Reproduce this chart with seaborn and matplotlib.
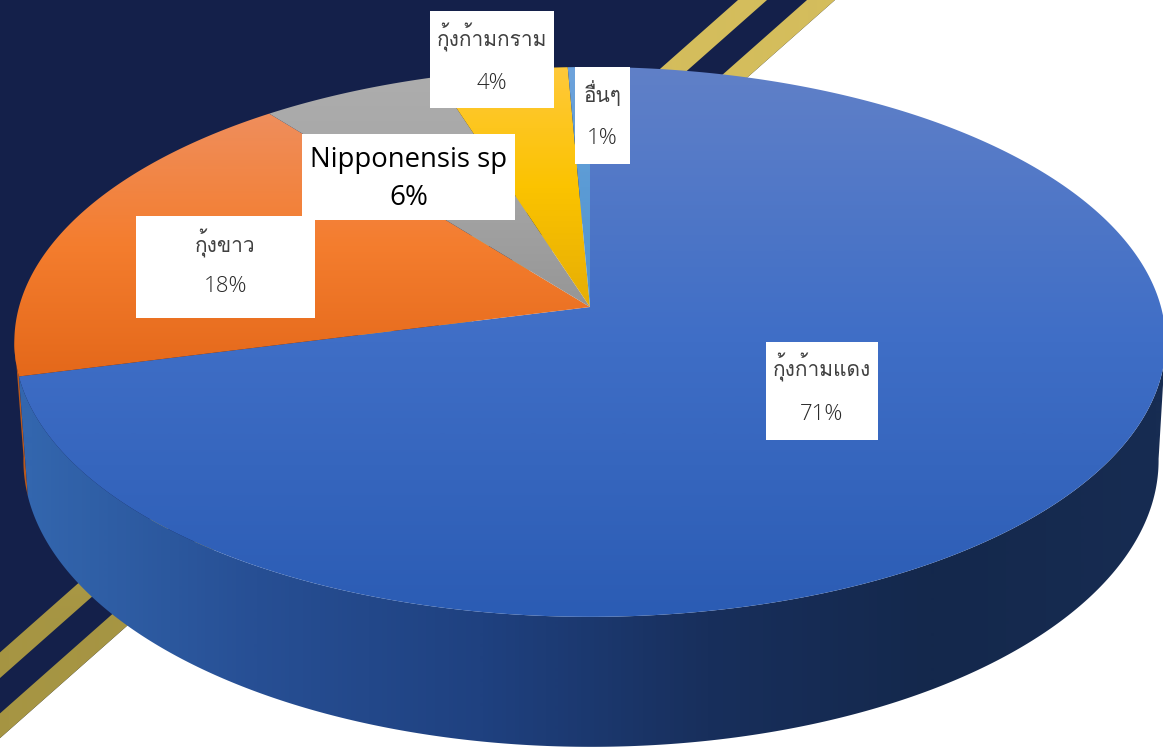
import numpy as np
import matplotlib
matplotlib.use("Agg")
import matplotlib.pyplot as plt
from matplotlib.patches import Polygon, Rectangle
import seaborn as sns

# chart values, clockwise from the top of the pie (labels show them rounded)
categories = ["กุ้งก้ามแดง", "กุ้งขาว", "Nipponensis sp", "กุ้งก้ามกราม", "อื่นๆ"]
shares = [71.0, 18.4, 5.7, 4.2, 0.7]

# top surface colours per slice (top of slice -> bottom of slice)
top_colors = [
    ["#6080c8", "#3f6ec6", "#2b5cb4"],
    ["#ef8e5c", "#f47d2e", "#e4681a"],
    ["#adadad", "#a5a5a5", "#969696"],
    ["#ffc93a", "#fbc300", "#e6ae05"],
    ["#6ea3dc", "#5b9bd5", "#4f93d0"],
]
side_colors = ["#3366ae", "#274f94", "#1f4180", "#182f5c", "#14284c", "#172c52"]

W, H = 1163, 748
NAVY = "#14204a"
THAI = ["Loma", "Noto Sans Thai Looped", "DejaVu Sans"]
LATIN = ["Open Sans", "DejaVu Sans"]
sns.set_theme(style="white")
plt.rcParams["font.family"] = THAI

fig = plt.figure(figsize=(W / 100, H / 100), dpi=100)
ax = fig.add_axes([0, 0, 1, 1])
ax.set_axis_off()


def gradient(colors, span, clip, axis="y", zorder=2):
    # paint a blended gradient over the canvas and clip it to a polygon
    cmap = sns.blend_palette(colors, n_colors=256, as_cmap=True)
    if axis == "y":
        grid = np.clip((np.arange(H)[:, None] - span[0]) / (span[1] - span[0]), 0, 1)
    else:
        grid = np.clip((np.arange(W)[None, :] - span[0]) / (span[1] - span[0]), 0, 1)
    im = ax.imshow(grid, cmap=cmap, vmin=0, vmax=1, extent=[0, W, H, 0], aspect="auto",
                   zorder=zorder, interpolation="bilinear")
    patch = Polygon(clip, closed=True, transform=ax.transData, fc="none", ec="none")
    ax.add_patch(patch)
    im.set_clip_path(patch)


def project(theta, d, a, b, c, cx=590):
    # perspective view of a circle, theta in degrees clockwise from the far side
    t = np.radians(theta)
    w = 1 + c * np.cos(t)
    return np.column_stack([cx + d * np.sin(t) / w, (a * np.cos(t) + b) / w])


def rim(theta):
    return project(theta, 571, -231.5, 307, 0.127)


def base(theta):
    return project(theta, 563, -228, 424, 0.127, cx=591)


# background: navy band with two gold stripes running down to the left
slope = 0.884
ax.add_patch(Polygon([(0, 0), (835, 0), (0, 835 * slope)], fc=NAVY, ec="none", zorder=0))
for x0, x1 in [(738, 767), (807, 835)]:
    band = [(x0, 0), (x1, 0), (0, x1 * slope), (0, x0 * slope)]
    gradient(["#d4bd5c", "#a69543"], (100, 620), band, zorder=1)

# slice angles from the values
edges = np.concatenate([[0], np.cumsum(shares)]) / np.sum(shares) * 360

# side wall, only the near half of the rim is visible
left_end, right_end = 263.5, 97.0
sliver_t = np.linspace(edges[1], left_end, 12)
sliver = np.vstack([rim(sliver_t), base(sliver_t[::-1])])
ax.add_patch(Polygon(sliver, fc="#b9581c", ec="none", zorder=2))

wall_t = np.linspace(right_end, edges[1], 300)
wall = np.vstack([rim(wall_t), base(wall_t[::-1])])
gradient(side_colors, (28, 1160), wall, axis="x", zorder=2)

# top surface
apex = np.array([[590, 307]])
for i, colors in enumerate(top_colors):
    t = np.linspace(edges[i], edges[i + 1], 400)
    poly = np.vstack([apex, rim(t)])
    gradient(colors, (poly[:, 1].min(), poly[:, 1].max()), poly, zorder=3)

# data label boxes: x0, y0, x1, y1, first line y, second line y
boxes = [
    (766, 342, 878, 440, 367, 414),
    (136, 216, 315, 318, 243, 286),
    (302, 134, 515, 220, 160, 198),
    (430, 11, 554, 108, 37, 83),
    (575, 67, 630, 164, 93, 138),
]
for name, share, (x0, y0, x1, y1, y_a, y_b) in zip(categories, shares, boxes):
    ax.add_patch(Rectangle((x0, y0), x1 - x0, y1 - y0, fc="white", ec="none", zorder=4))
    is_latin = name.isascii()
    color = "black" if is_latin else "#404040"
    cx = (x0 + x1) / 2
    ax.text(cx, y_a, name, ha="center", va="center", fontsize=19.8 if is_latin else 15, color=color,
            family=LATIN if is_latin else THAI, zorder=5)
    ax.text(cx, y_b, f"{round(share)}%", ha="center", va="center", fontsize=20 if is_latin else 16,
            color="black" if is_latin else "#2a2a2a", family=LATIN,
            fontweight="normal" if is_latin else "light", zorder=5)

ax.set_xlim(0, W)
ax.set_ylim(H, 0)
fig.savefig("out.png", dpi=100)
plt.close(fig)
